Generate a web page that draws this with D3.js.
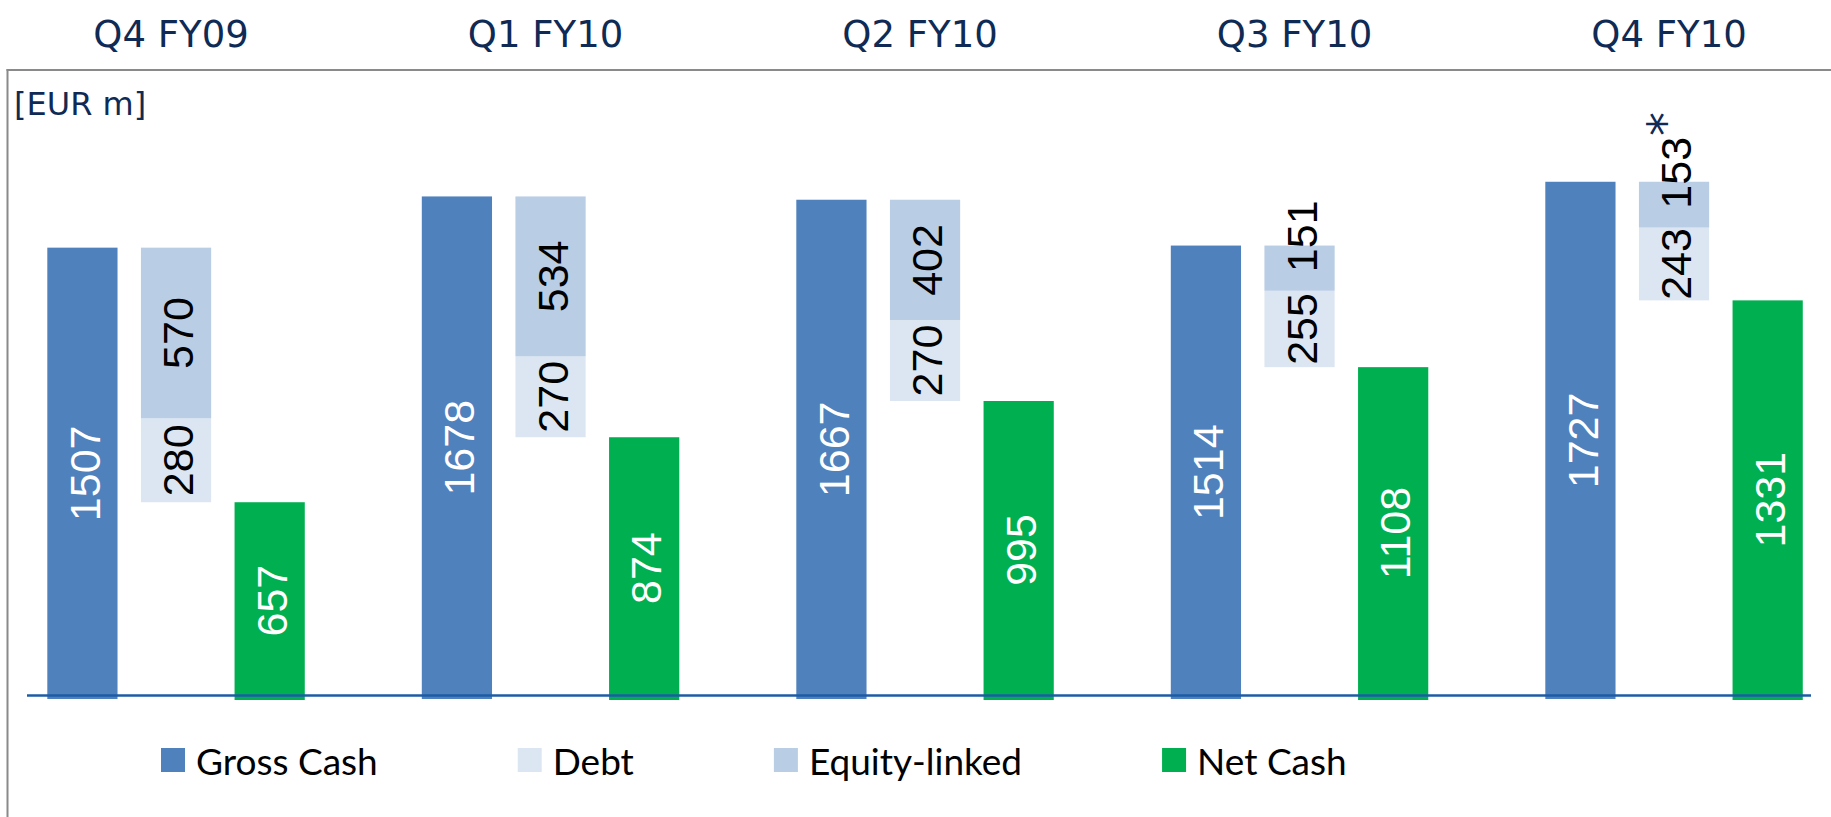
<!DOCTYPE html>
<html>
<head>
  <meta charset="utf-8">
  <title>Gross cash, debt and net cash</title>
  <script src="https://cdn.jsdelivr.net/npm/d3@7"></script>
  <style>
    body { margin: 0; background: #fff; }
    svg { display: block; }
  </style>
</head>
<body>
<script>

// data
var quarters     = ["Q4 FY09", "Q1 FY10", "Q2 FY10", "Q3 FY10", "Q4 FY10"];
var grossCash    = [1507, 1678, 1667, 1514, 1727];
var debt         = [280, 270, 270, 255, 243];
var equityLinked = [570, 534, 402, 151, 153];
var netCash      = [657, 874, 995, 1108, 1331];
var equityNotes  = ["", "", "", "", "*"];
var seriesNames  = ["Gross Cash", "Debt", "Equity-linked", "Net Cash"];
var unitLabel    = "[EUR m]";

var colors = {
  gross: "#4f81bd",
  debt: "#dce6f2",
  equity: "#b9cde5",
  net: "#00b050"
};
var navy = "#0f2b55";

var width = 1831,
    height = 817;

var svg = d3.select("body").append("svg")
    .attr("width", width)
    .attr("height", height);

svg.append("rect")
    .attr("width", width)
    .attr("height", height)
    .attr("fill", "#fff");

// scales
var y = d3.scaleLinear().domain([0, 2000]).range([699, 100]);

var groupStep = 374.5;
var x0 = d3.scaleBand()
    .domain(quarters)
    .range([35.6, 35.6 + groupStep * quarters.length]);

var x1 = d3.scaleBand()
    .domain(["gross", "stack", "net", "gap"])
    .range([0, x0.bandwidth()])
    .paddingInner(0.25)
    .paddingOuter(0.125);

// rows, one per quarter
var rows = quarters.map(function(q, i) {
  return {
    q: q,
    gross: grossCash[i],
    debt: debt[i],
    equity: equityLinked[i],
    net: netCash[i],
    note: equityNotes[i]
  };
});

// frame
svg.append("line")
    .attr("x1", 6.5).attr("x2", width)
    .attr("y1", 70).attr("y2", 70)
    .attr("stroke", "#8a8a8a").attr("stroke-width", 2);
svg.append("line")
    .attr("x1", 7.5).attr("x2", 7.5)
    .attr("y1", 69).attr("y2", height)
    .attr("stroke", "#8a8a8a").attr("stroke-width", 2);

// quarter headers
svg.append("g").selectAll("text")
    .data(rows)
  .enter().append("text")
    .attr("x", function(d) { return x0(d.q) + x1("stack") + x1.bandwidth() / 2 - 5; })
    .attr("y", 46.5)
    .attr("text-anchor", "middle")
    .attr("font-family", "'DejaVu Sans', Verdana, sans-serif")
    .attr("font-size", 37)
    .attr("fill", navy)
    .text(function(d) { return d.q; });

svg.append("text")
    .attr("x", 14)
    .attr("y", 115)
    .attr("font-family", "'DejaVu Sans', Verdana, sans-serif")
    .attr("font-size", 32)
    .attr("fill", navy)
    .text(unitLabel);

// bars
var bw = x1.bandwidth();
var g = svg.append("g").selectAll("g")
    .data(rows)
  .enter().append("g")
    .attr("transform", function(d) { return "translate(" + x0(d.q) + ",0)"; });

g.append("rect")
    .attr("x", x1("gross"))
    .attr("width", bw)
    .attr("y", function(d) { return y(d.gross); })
    .attr("height", function(d) { return y(0) - y(d.gross); })
    .attr("fill", colors.gross);

g.append("rect")
    .attr("x", x1("stack"))
    .attr("width", bw)
    .attr("y", function(d) { return y(d.net + d.debt); })
    .attr("height", function(d) { return y(d.net) - y(d.net + d.debt); })
    .attr("fill", colors.debt);

g.append("rect")
    .attr("x", x1("stack"))
    .attr("width", bw)
    .attr("y", function(d) { return y(d.net + d.debt + d.equity); })
    .attr("height", function(d) { return y(d.net + d.debt) - y(d.net + d.debt + d.equity); })
    .attr("fill", colors.equity);

g.append("rect")
    .attr("x", x1("net"))
    .attr("width", bw)
    .attr("y", function(d) { return y(d.net); })
    .attr("height", function(d) { return y(0) - y(d.net) + 1; })
    .attr("fill", colors.net);

// baseline
svg.append("line")
    .attr("x1", 27).attr("x2", 1811)
    .attr("y1", 695.5).attr("y2", 695.5)
    .attr("stroke", "#1c5ca6").attr("stroke-width", 2.5);

// rotated value labels
function label(sel, slot, lo, hi, fill, txt) {
  var t = sel.append("text")
      .attr("font-family", "'Liberation Sans', Arimo, Arial, sans-serif")
      .attr("font-size", 43)
      .attr("fill", fill)
      .attr("dy", "0.4em");
  t.append("tspan").text(txt);
  t.each(function(d) {
    var el = d3.select(this);
    var top = y(hi(d)), bottom = y(lo(d));
    var cy = (top + bottom) / 2;
    var cx = x1(slot) + bw / 2;
    var len = this.getComputedTextLength();
    if (len > bottom - top + 8) {
      // does not fit: start the text at the bar middle and run upward
      el.attr("text-anchor", "start")
        .attr("transform", "translate(" + cx + "," + (cy + 4) + ") rotate(-90)");
    } else {
      el.attr("text-anchor", "middle")
        .attr("transform", "translate(" + cx + "," + cy + ") rotate(-90)");
    }
  });
  return t;
}

label(g, "gross", function() { return 0; }, function(d) { return d.gross; }, "#fff",
      function(d) { return d.gross; });
label(g, "stack", function(d) { return d.net; }, function(d) { return d.net + d.debt; }, "#000",
      function(d) { return d.debt; });
var eq = label(g, "stack", function(d) { return d.net + d.debt; },
      function(d) { return d.net + d.debt + d.equity; }, "#000",
      function(d) { return d.equity; });
eq.filter(function(d) { return d.note; })
  .append("tspan")
    .attr("dy", "-0.2em")
    .attr("dx", "0.02em")
    .attr("font-family", "'DejaVu Sans', Verdana, sans-serif")
    .attr("font-size", 48)
    .attr("fill", navy)
    .text(function(d) { return d.note; });
label(g, "net", function() { return 0; }, function(d) { return d.net; }, "#fff",
      function(d) { return d.net; });

// legend
var legendColors = [colors.gross, colors.debt, colors.equity, colors.net];
var lx = 161;
seriesNames.forEach(function(name, i) {
  svg.append("rect")
      .attr("x", lx).attr("y", 748)
      .attr("width", 24).attr("height", 24)
      .attr("fill", legendColors[i]);
  var t = svg.append("text")
      .attr("x", lx + 35).attr("y", 775)
      .attr("font-family", "Lato, 'Open Sans', sans-serif")
      .attr("font-size", 37)
      .attr("fill", "#000")
      .text(name);
  lx = lx + 35 + t.node().getComputedTextLength() + 140;
});

</script>
</body>
</html>
